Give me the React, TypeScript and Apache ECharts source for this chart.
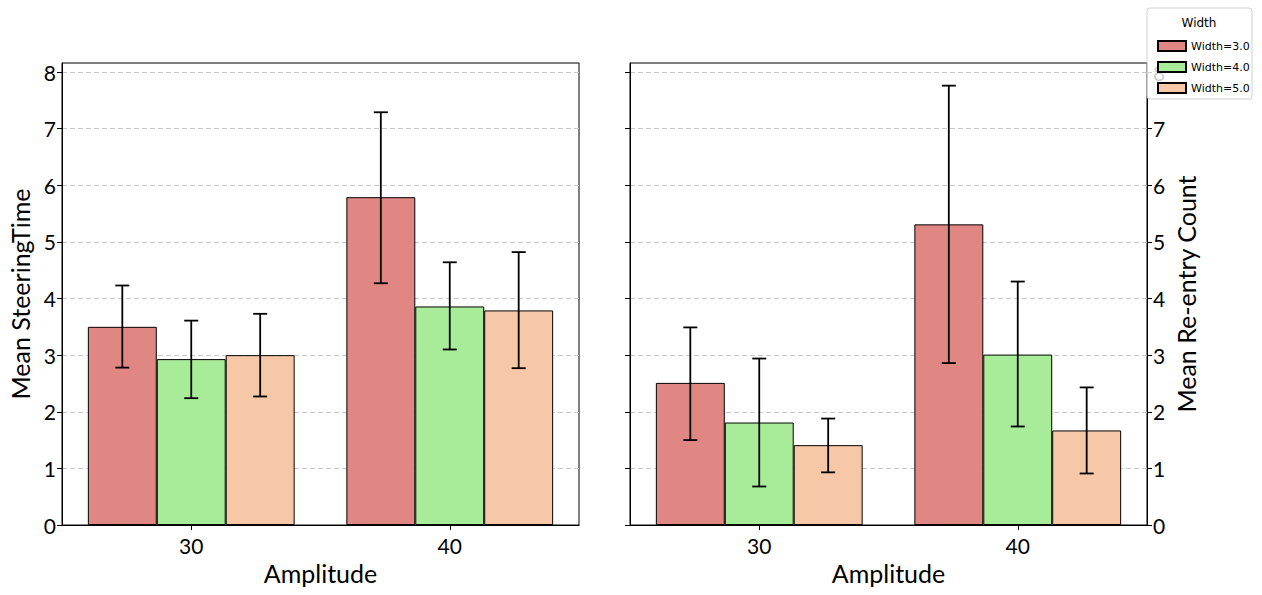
import React, { useEffect, useRef } from "react";
import * as echarts from "echarts";

const categories = ["30", "40"];
const widthNames = ["Width=3.0", "Width=4.0", "Width=5.0"];
const colors = ["#E08783", "#A8EC99", "#F6C8A8"];

// Mean SteeringTime per width, for amplitude 30 and 40
const steerMean = [
  [3.5, 5.79],
  [2.93, 3.86],
  [3.0, 3.79],
];
const steerLow = [
  [2.78, 4.27],
  [2.24, 3.1],
  [2.27, 2.77],
];
const steerHigh = [
  [4.23, 7.29],
  [3.61, 4.64],
  [3.73, 4.82],
];

// Mean Re-entry Count
const reMean = [
  [2.51, 5.31],
  [1.81, 3.01],
  [1.41, 1.67],
];
const reLow = [
  [1.5, 2.86],
  [0.68, 1.74],
  [0.93, 0.91],
];
const reHigh = [
  [3.49, 7.76],
  [2.94, 4.3],
  [1.88, 2.43],
];

const yTicks = [0, 1, 2, 3, 4, 5, 6, 7, 8];
const Y_MAX = 8.16;
const FONT = "Lato, 'DejaVu Sans', sans-serif";

export default function App() {
  const ref = useRef<HTMLDivElement>(null);
  useEffect(() => {
    if (!ref.current) return;
    const chart = echarts.init(ref.current, null, { renderer: "svg" });

    const yBase = (extra: any) => ({
      type: "value",
      min: 0,
      max: Y_MAX,
      interval: 1,
      axisLine: { show: true, lineStyle: { color: "#000", width: 1 } },
      axisTick: { show: true, length: 5, lineStyle: { color: "#000" }, customValues: yTicks },
      axisLabel: {
        color: "#000",
        fontSize: 21,
        fontFamily: FONT,
        margin: 6,
        customValues: yTicks,
      },
      splitLine: { show: true, lineStyle: { color: "#c8c8c8", type: [5, 3], width: 1 } },
      ...extra,
    });

    const xBase = (gi: number) => ({
      type: "category",
      gridIndex: gi,
      data: categories,
      name: "Amplitude",
      nameLocation: "middle",
      nameGap: 34,
      nameTextStyle: { color: "#000", fontSize: 25, fontFamily: FONT },
      axisLine: { show: true, lineStyle: { color: "#000", width: 1 } },
      axisTick: { show: true, alignWithLabel: true, length: 5, lineStyle: { color: "#000" } },
      axisLabel: { color: "#000", fontSize: 21, fontFamily: FONT, margin: 10 },
      splitLine: { show: false },
    });

    const series: any[] = [];
    const addPanel = (xi: number, yi: number, mean: number[][], low: number[][], high: number[][]) => {
      for (let k = 0; k < 3; k++) {
        series.push({
          type: "bar",
          name: widthNames[k],
          xAxisIndex: xi,
          yAxisIndex: yi,
          data: mean[k],
          barGap: "0%",
          barCategoryGap: "20%",
          itemStyle: { color: colors[k], borderColor: "#000", borderWidth: 1 },
          emphasis: { disabled: true },
          z: 2,
        });
      }
      for (let k = 0; k < 3; k++) {
        const data = categories.map((_, i) => [i, low[k][i], high[k][i]]);
        series.push({
          type: "custom",
          xAxisIndex: xi,
          yAxisIndex: yi,
          data,
          z: 5,
          silent: true,
          encode: { x: 0, y: [1, 2] },
          renderItem: (params: any, api: any) => {
            const ci = api.value(0);
            const band = api.size([1, 0])[0];
            const bw = (band * 0.8) / 3;
            const lo = api.coord([ci, api.value(1)]);
            const hi = api.coord([ci, api.value(2)]);
            const x = lo[0] + (k - 1) * bw;
            const cap = 7;
            const style = { stroke: "#000", lineWidth: 1.8 };
            return {
              type: "group",
              children: [
                { type: "line", shape: { x1: x, y1: lo[1], x2: x, y2: hi[1] }, style },
                { type: "line", shape: { x1: x - cap, y1: lo[1], x2: x + cap, y2: lo[1] }, style },
                { type: "line", shape: { x1: x - cap, y1: hi[1], x2: x + cap, y2: hi[1] }, style },
              ],
            };
          },
        });
      }
    };
    addPanel(0, 0, steerMean, steerLow, steerHigh);
    addPanel(1, 1, reMean, reLow, reHigh);

    chart.setOption({
      animation: false,
      backgroundColor: "#fff",
      grid: [
        { left: 62, top: 63, width: 517, height: 462, show: true, borderColor: "#000", borderWidth: 1, backgroundColor: "transparent" },
        { left: 630, top: 63, width: 517, height: 462, show: true, borderColor: "#000", borderWidth: 1, backgroundColor: "transparent" },
      ],
      xAxis: [xBase(0), xBase(1)],
      yAxis: [
        yBase({
          gridIndex: 0,
          position: "left",
          name: "Mean SteeringTime",
          nameLocation: "middle",
          nameGap: 30,
          nameTextStyle: { color: "#000", fontSize: 25, fontFamily: FONT },
        }),
        yBase({
          gridIndex: 1,
          position: "right",
          name: "Mean Re-entry Count",
          nameLocation: "middle",
          nameGap: 26,
          nameRotate: 90,
          nameTextStyle: { color: "#000", fontSize: 25, fontFamily: FONT },
        }),
        yBase({
          gridIndex: 1,
          position: "left",
          axisLabel: { show: false },
          splitLine: { show: false },
        }),
      ],
      legend: {
        data: widthNames,
        orient: "vertical",
        left: 1152,
        top: 35,
        itemWidth: 28,
        itemHeight: 10,
        itemGap: 9,
        icon: "rect",
        z: 20,
        selectedMode: false,
        textStyle: { color: "#000", fontSize: 11, fontFamily: "'DejaVu Sans', sans-serif" },
      },
      graphic: [
        {
          type: "rect",
          z: 15,
          shape: { x: 1147, y: 8, width: 105, height: 91, r: 3 },
          style: { fill: "rgba(255,255,255,0.8)", stroke: "#d0d0d0", lineWidth: 1 },
        },
        {
          type: "text",
          z: 20,
          x: 1199,
          y: 23,
          style: {
            text: "Width",
            fill: "#000",
            fontSize: 12,
            fontFamily: "'DejaVu Sans', sans-serif",
            align: "center",
            verticalAlign: "middle",
          },
        },
      ],
      series,
    });
    return () => chart.dispose();
  }, []);
  return (
    <div
      ref={ref}
      style={{ position: "fixed", left: 0, top: 0, width: 1262, height: 595 }}
    />
  );
}
